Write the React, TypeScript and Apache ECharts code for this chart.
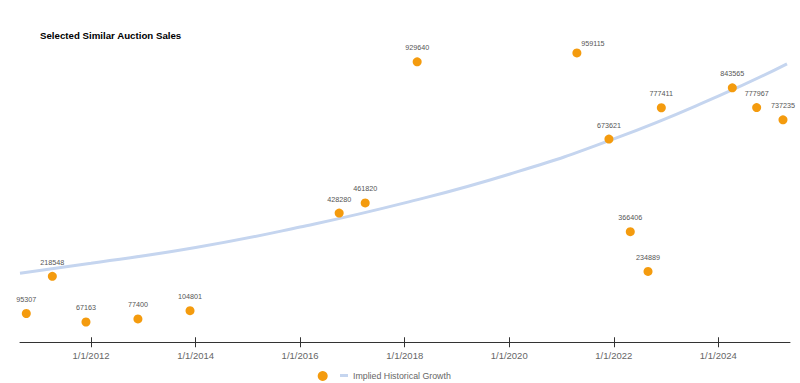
import React, { useEffect, useRef } from "react";
import * as echarts from "echarts";

const titleText = "Selected Similar Auction Sales";
const growthName = "Implied Historical Growth";

const saleDates = [
  "2010-10-06", "2011-04-06", "2011-11-27", "2012-11-24", "2013-11-23",
  "2016-09-30", "2017-03-31", "2018-03-29", "2021-04-18", "2021-11-28",
  "2022-04-26", "2022-08-28", "2022-11-29", "2024-04-08", "2024-09-25",
  "2025-03-28",
];
const saleValues = [
  95307, 218548, 67163, 77400, 104801,
  428280, 461820, 929640, 959115, 673621,
  366406, 234889, 777411, 843565, 777967,
  737235,
];

const growthDates = [
  "2010-08-23", "2012-01-01", "2014-01-01", "2016-01-01", "2018-01-01",
  "2020-01-01", "2022-01-01", "2024-01-01", "2025-04-25",
];
const growthValues = [
  229000, 262000, 314000, 382000, 462000,
  557000, 674000, 816000, 923000,
];

const tickYears = [2012, 2014, 2016, 2018, 2020, 2022, 2024];

const parseDate = (s: string) => {
  const [y, m, d] = s.split("-").map(Number);
  return new Date(y, m - 1, d).getTime();
};

export default function App() {
  const ref = useRef<HTMLDivElement>(null);

  useEffect(() => {
    if (!ref.current) return;
    const chart = echarts.init(ref.current, null, { renderer: "svg" });
    const ticks = tickYears.map((y) => new Date(y, 0, 1).getTime());
    const xMin = parseDate("2010-08-23");
    const xMax = parseDate("2025-05-16");
    const font = "Arial, 'Liberation Sans', sans-serif";

    const scatterData = saleDates.map((d, i) => {
      const item: any = { value: [parseDate(d), saleValues[i]] };
      if (saleValues[i] === 959115) {
        item.label = { offset: [16, 5] };
      }
      return item;
    });

    chart.setOption({
      animation: false,
      textStyle: { fontFamily: font },
      title: {
        text: titleText,
        left: 40,
        top: 30,
        padding: 0,
        textStyle: { fontSize: 9.7, fontWeight: "bold", color: "#000", fontFamily: font },
      },
      grid: { left: 20, right: 10, top: 40.6, bottom: 40.75 },
      legend: [
        {
          data: [{ name: "Sales", icon: "circle" }],
          left: 317.7,
          top: 371,
          padding: 0,
          itemWidth: 10,
          itemHeight: 10,
          formatter: () => "",
          textStyle: { fontSize: 8.8, color: "#666" },
        },
        {
          data: [{ name: growthName, icon: "rect" }],
          left: 340,
          top: 371,
          padding: 0,
          itemWidth: 8,
          itemHeight: 3,
          textStyle: { fontSize: 8.8, color: "#666", fontFamily: font },
        },
      ],
      xAxis: [
        {
          type: "value",
          min: xMin,
          max: xMax,
          axisLine: { show: true, lineStyle: { color: "#333", width: 1 } },
          axisTick: { show: true, length: 5, customValues: ticks, lineStyle: { color: "#333" } },
          axisLabel: {
            show: true,
            customValues: ticks,
            margin: 8,
            fontSize: 9.5,
            color: "#666",
            fontFamily: font,
            formatter: (v: number) => {
              const d = new Date(v);
              return `${d.getMonth() + 1}/${d.getDate()}/${d.getFullYear()}`;
            },
          },
          splitLine: { show: false },
        },
        {
          type: "value",
          position: "bottom",
          min: xMin,
          max: xMax,
          axisLine: { show: false },
          axisTick: { show: true, inside: true, length: 5, customValues: ticks, lineStyle: { color: "#333" } },
          axisLabel: { show: false },
          splitLine: { show: false },
        },
      ],
      yAxis: {
        type: "value",
        min: 0,
        max: 1000000,
        show: false,
        splitLine: { show: false },
      },
      series: [
        {
          name: growthName,
          type: "line",
          xAxisIndex: 0,
          smooth: true,
          showSymbol: false,
          symbol: "none",
          data: growthDates.map((d, i) => [parseDate(d), growthValues[i]]),
          lineStyle: { color: "#c5d5ef", width: 3 },
          itemStyle: { color: "#c5d5ef" },
          z: 1,
          silent: true,
        },
        {
          name: "Sales",
          type: "scatter",
          xAxisIndex: 0,
          symbolSize: 9,
          itemStyle: { color: "#f49b0e", opacity: 1 },
          label: {
            show: true,
            position: "top",
            distance: 6,
            fontSize: 7.2,
            color: "#555",
            fontFamily: font,
            formatter: (p: any) => String(p.value[1]),
          },
          data: scatterData,
          z: 3,
        },
      ],
    });

    return () => chart.dispose();
  }, []);

  return <div ref={ref} style={{ width: 800, height: 383, position: "absolute", left: 0, top: 0 }} />;
}
